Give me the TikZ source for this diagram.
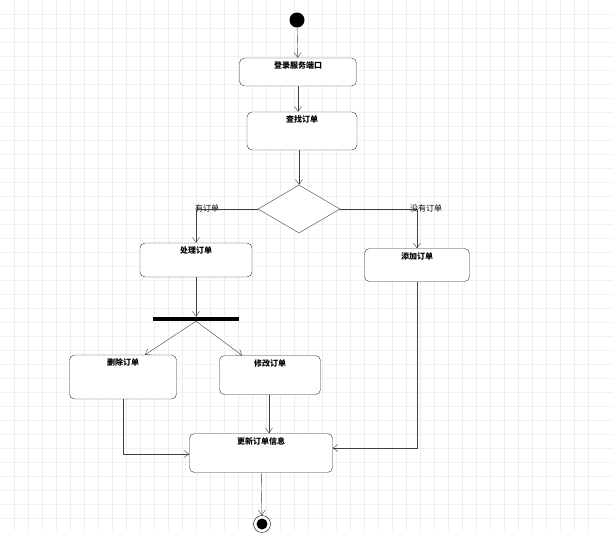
\documentclass[tikz,border=0pt]{standalone}
\usepackage{fontspec}
\setmainfont{Noto Sans CJK SC}
\usetikzlibrary{arrows.meta,shapes.geometric,positioning}
\tikzset{
  act/.style={draw=black!80, rounded corners=5pt, fill=white, inner sep=0pt},
  lbl/.style={anchor=north, yshift=-3pt, font=\footnotesize\bfseries, inner sep=1pt},
  flow/.style={draw=black!75, -{Straight Barb[length=5pt,width=7pt]}},
  guard/.style={font=\footnotesize, inner sep=1pt, anchor=south}
}
\begin{document}
\begin{tikzpicture}[x=1pt,y=-1pt]
  \useasboundingbox (0,0) rectangle (613,542);
  % grid
  \foreach \gx in {14,28,...,600} \draw[black!7] (\gx,0) -- (\gx,530);
  \foreach \gy in {14,28,...,530} \draw[black!5] (0,\gy) -- (613,\gy);

  \node (start) [circle, fill=black, minimum size=15pt, inner sep=0pt] at (297,20) {};
  \node (login) [act, minimum width=117pt, minimum height=28pt, label={[lbl]north:登录服务端口}] at (298,72) {};
  \node (find) [act, minimum width=110pt, minimum height=38pt, label={[lbl]north:查找订单}] at (302,131) {};
  \node (dec) [diamond, draw=black!75, aspect=1.7, minimum width=82pt, minimum height=48pt, inner sep=0pt, fill=white] at (299,209) {};
  \node (proc) [act, minimum width=112pt, minimum height=34pt, label={[lbl]north:处理订单}] at (196,260) {};
  \node (add) [act, minimum width=105pt, minimum height=33pt, label={[lbl]north:添加订单}] at (417,265) {};
  \node (bar) [fill=black, minimum width=86pt, minimum height=4pt, inner sep=0pt] at (196,319) {};
  \node (del) [act, minimum width=107pt, minimum height=44pt, label={[lbl]north:删除订单}] at (123,377) {};
  \node (mod) [act, minimum width=101pt, minimum height=39pt, label={[lbl]north:修改订单}] at (270,375) {};
  \node (upd) [act, minimum width=143pt, minimum height=39pt, label={[lbl]north:更新订单信息}] at (261,453) {};
  \node (stop) [circle, draw, minimum size=17pt, inner sep=0pt] at (262,524) {};
  \node [circle, fill=black, minimum size=11pt, inner sep=0pt] at (stop) {};

  \node (yes) [guard] at (207,213) {有订单};
  \node (no) [guard] at (426,213) {没有订单};

  \draw[flow] (start) -- (login);
  \draw[flow] (login) -- (login.south |- find.north);
  \draw[flow] (find.south -| dec.north) -- (dec);
  \draw[flow] (dec.west) -| (proc.north);
  \draw[flow] (dec.east) -| (add.north);
  \draw[flow] (proc) -- (bar);
  \draw[flow] (bar.south) -- ([xshift=22pt]del.north);
  \draw[flow] (bar.south) -- ([xshift=-28pt]mod.north);
  \draw[flow] (del.south) |- ([yshift=-1pt]upd.west);
  \draw[flow] ([xshift=-1pt]mod.south) -- ([xshift=-1pt]mod.south |- upd.north);
  \draw[flow] (add.south) |- ([yshift=5pt]upd.east);
  \draw[flow] (upd) -- (stop);
\end{tikzpicture}
\end{document}
